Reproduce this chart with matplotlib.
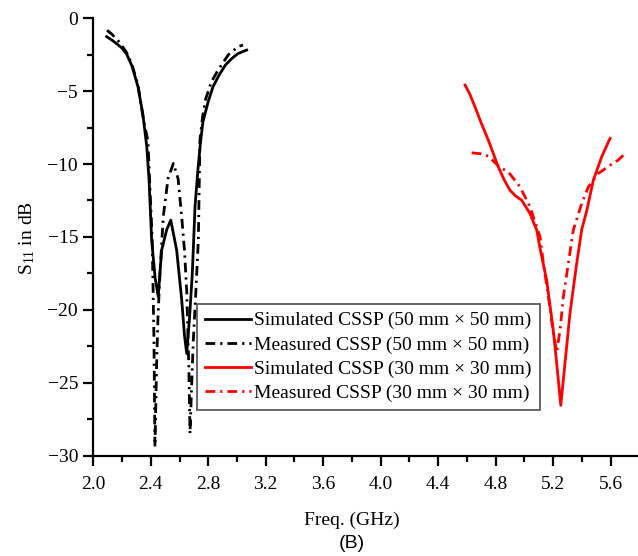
import matplotlib
matplotlib.use("Agg")
import matplotlib.pyplot as plt
from matplotlib.ticker import MultipleLocator, FormatStrFormatter, FuncFormatter

freq_sim50 = [2.093, 2.13, 2.17, 2.20, 2.232, 2.27, 2.311, 2.345, 2.372, 2.388, 2.406, 2.43, 2.452, 2.465,
              2.476, 2.511, 2.539, 2.58, 2.615, 2.635, 2.65, 2.67, 2.689, 2.708, 2.727, 2.745, 2.763,
              2.80, 2.833, 2.875, 2.92, 2.965, 3.007, 3.067]
s11_sim50 = [-1.26, -1.5, -1.8, -2.05, -2.45, -3.3, -4.7, -6.6, -8.8, -11.1, -15.2, -17.8, -19.1, -17.3,
             -15.9, -14.5, -13.85, -15.9, -19.3, -21.8, -23.0, -20.5, -17.5, -12.9, -10.5, -8.6, -7.1,
             -5.7, -4.7, -3.9, -3.2, -2.75, -2.42, -2.18]

freq_meas50 = [2.096, 2.13, 2.17, 2.20, 2.232, 2.27, 2.311, 2.35, 2.38, 2.41, 2.422, 2.429, 2.44, 2.45,
               2.464, 2.487, 2.52, 2.557, 2.59, 2.615, 2.635, 2.65, 2.665, 2.673, 2.685, 2.696, 2.715,
               2.731, 2.742, 2.76, 2.78, 2.82, 2.868, 2.94, 3.007, 3.042]
s11_meas50 = [-0.82, -1.1, -1.5, -1.9, -2.35, -3.2, -4.6, -7.0, -8.4, -15.2, -22.0, -29.4, -24.0, -20.5,
              -17.5, -13.6, -11.0, -9.96, -11.0, -13.6, -16.0, -18.7, -24.0, -28.5, -25.0, -22.1, -18.5,
              -15.2, -8.36, -6.8, -5.6, -4.4, -3.55, -2.5, -1.95, -1.83]

freq_sim30 = [4.587, 4.62, 4.656, 4.70, 4.749, 4.818, 4.86, 4.90, 4.94, 4.981, 5.039, 5.086, 5.109,
              5.155, 5.201, 5.225, 5.253, 5.271, 5.317, 5.364, 5.399, 5.434, 5.48, 5.538, 5.596]
s11_sim30 = [-4.58, -5.2, -6.07, -7.2, -8.36, -10.19, -11.1, -11.8, -12.2, -12.48, -13.4, -14.54, -15.8,
             -17.97, -21.4, -23.7, -26.56, -24.8, -20.26, -16.8, -14.5, -13.2, -11.1, -9.5, -8.24]

freq_meas30 = [4.633, 4.70, 4.749, 4.83, 4.888, 4.97, 5.039, 5.109, 5.132, 5.167, 5.20, 5.225, 5.248,
               5.271, 5.306, 5.34, 5.399, 5.445, 5.514, 5.596, 5.653, 5.688]
s11_meas30 = [-9.23, -9.3, -9.46, -10.23, -10.54, -11.57, -12.94, -15.0, -16.8, -19.1, -21.5, -22.9, -21.4,
              -19.1, -16.8, -14.54, -12.7, -11.57, -10.65, -10.08, -9.73, -9.39]

labels = ["Simulated CSSP (50 mm \u00d7 50 mm)", "Measured CSSP (50 mm \u00d7 50 mm)",
          "Simulated CSSP (30 mm \u00d7 30 mm)", "Measured CSSP (30 mm \u00d7 30 mm)"]

plt.rcParams['font.family'] = ['Liberation Serif', 'DejaVu Serif']
plt.rcParams['mathtext.fontset'] = 'custom'
plt.rcParams['mathtext.rm'] = 'Liberation Serif'
plt.rcParams['mathtext.it'] = 'Liberation Serif:italic'

W, H = 638, 556
fig = plt.figure(figsize=(W / 100, H / 100), dpi=100)
L, R, T, B = 93.3, 637.0, 18.3, 455.5
ax = fig.add_axes([L / W, 1 - B / H, (R - L) / W, (B - T) / H])

dashdot = (0, (3.5, 1.8, 0.8, 1.8))
ax.plot(freq_sim50, s11_sim50, color='black', lw=2.0, label=labels[0])
ax.plot(freq_meas50, s11_meas50, color='black', lw=2.0, ls=dashdot, label=labels[1])
ax.plot(freq_sim30, s11_sim30, color='#ff0000', lw=2.0, label=labels[2])
ax.plot(freq_meas30, s11_meas30, color='#ff0000', lw=2.0, ls=dashdot, label=labels[3])

ax.set_xlim(2.0, 2.0 + (R - L) / 143.7)
ax.set_ylim(-30, 0)
ax.xaxis.set_major_locator(MultipleLocator(0.4))
ax.xaxis.set_minor_locator(MultipleLocator(0.2))
ax.yaxis.set_major_locator(MultipleLocator(5))
ax.yaxis.set_minor_locator(MultipleLocator(2.5))
ax.xaxis.set_major_formatter(FormatStrFormatter('%.1f'))
ax.yaxis.set_major_formatter(FuncFormatter(lambda v, p: f"{int(round(v))}".replace('-', '\u2212')))
for s in ['top', 'right']:
    ax.spines[s].set_visible(False)
for s in ['left', 'bottom']:
    ax.spines[s].set_linewidth(1.6)
ax.tick_params(which='major', direction='out', length=7, width=1.6, labelsize=14)
ax.tick_params(axis='x', which='major', pad=8)
ax.tick_params(axis='y', which='major', pad=4)
ax.tick_params(which='minor', direction='out', length=4, width=1.6)

fig.text(351.7 / W, 1 - 520 / H, "Freq. (GHz)", ha='center', va='center', fontsize=14)
fig.text(26.7 / W, 1 - 238 / H, r"S$_{11}$ in dB", ha='center', va='center', rotation=90, fontsize=14)
fig.text(351.7 / W, 1 - 544 / H, "(B)", ha='center', va='center', fontsize=14,
         family=['Liberation Sans', 'DejaVu Sans'])

leg = ax.legend(loc='lower left', bbox_to_anchor=((197 - L) / (R - L), (B - 410) / (B - T)),
                fontsize=14, frameon=True, fancybox=False, edgecolor='#333333',
                handlelength=2.4, handletextpad=0.15, borderpad=0.4, labelspacing=0.34,
                borderaxespad=0)
leg.get_frame().set_linewidth(1.3)

fig.savefig("out.png", dpi=100)
